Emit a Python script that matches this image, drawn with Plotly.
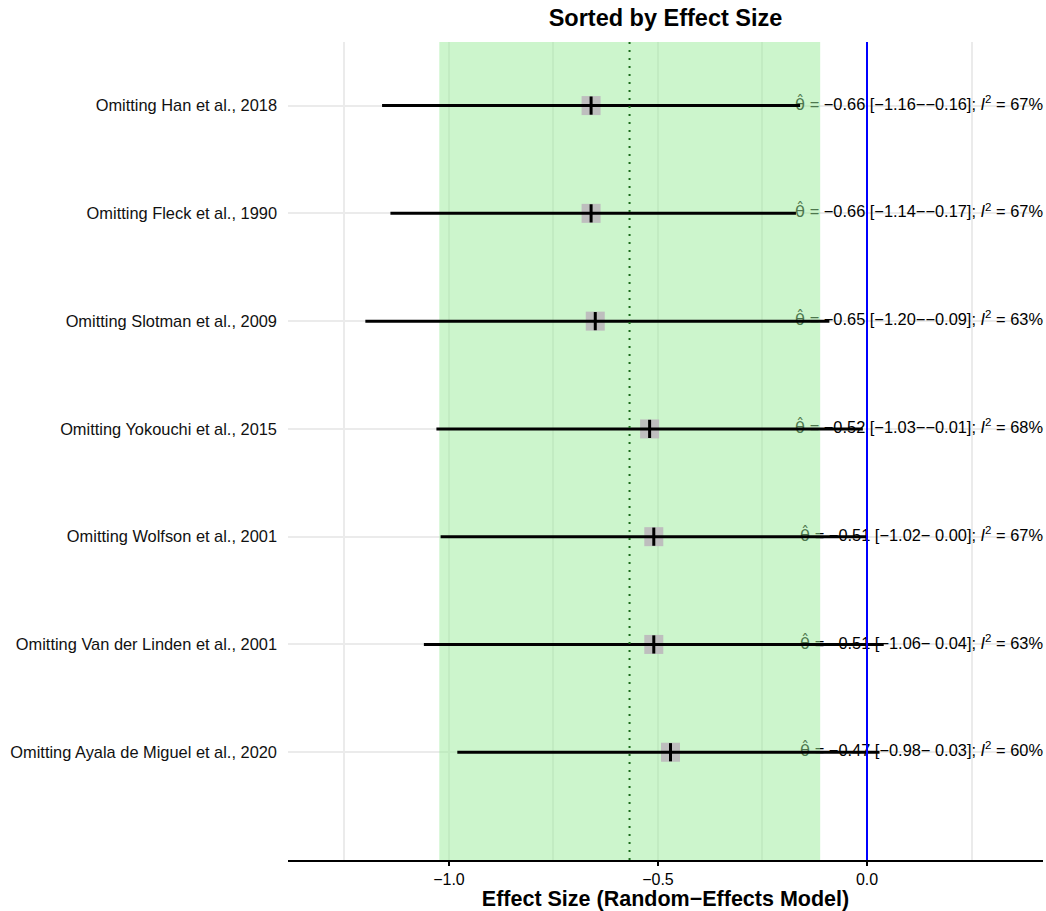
import plotly.graph_objects as go

# Leave-one-out sensitivity results, sorted by effect size
studies = [
    "Omitting Han et al., 2018",
    "Omitting Fleck et al., 1990",
    "Omitting Slotman et al., 2009",
    "Omitting Yokouchi et al., 2015",
    "Omitting Wolfson et al., 2001",
    "Omitting Van der Linden et al., 2001",
    "Omitting Ayala de Miguel et al., 2020",
]
estimate = [-0.66, -0.66, -0.65, -0.52, -0.51, -0.51, -0.47]
ci_lower = [-1.16, -1.14, -1.20, -1.03, -1.02, -1.06, -0.98]
ci_upper = [-0.16, -0.17, -0.09, -0.01, 0.00, 0.04, 0.03]
i_squared = [67, 67, 63, 68, 67, 63, 60]

# Pooled random-effects estimate and its interval (shaded band)
pooled_estimate = -0.568
pooled_lower = -1.023
pooled_upper = -0.112

X_RANGE = [-1.385, 0.421]
Y_RANGE = [0, 7.59]
FONT = "Liberation Sans, Arial, Helvetica, sans-serif"

n = len(studies)
ypos = list(range(n, 0, -1))  # first study at the top


def fmt(v):
    return f"{v:5.2f}".replace("-", "\u2212")


labels = []
for e, lo, hi, i2 in zip(estimate, ci_lower, ci_upper, i_squared):
    upper_txt = fmt(hi).strip() if hi < 0 else " " + fmt(hi).strip()
    labels.append(
        "<span style='font-family:DejaVu Sans'>\u03b8\u0302</span> = "
        f"{fmt(e)} [{fmt(lo)}\u2212{upper_txt}]; "
        f"<i>I</i><sup>2</sup> = {i2}%"
    )

fig = go.Figure()

# Result labels (drawn first so the shaded band tints the part beneath it)
fig.add_trace(go.Scatter(
    x=[X_RANGE[1]] * n, y=ypos, mode="text", text=labels,
    textposition="middle left",
    textfont=dict(family=FONT, size=16.4, color="black"),
    cliponaxis=False, hoverinfo="skip", showlegend=False,
))

# Pooled interval band
fig.add_trace(go.Scatter(
    x=[pooled_lower, pooled_upper, pooled_upper, pooled_lower, pooled_lower],
    y=[Y_RANGE[0], Y_RANGE[0], Y_RANGE[1], Y_RANGE[1], Y_RANGE[0]],
    mode="lines", fill="toself", fillcolor="rgba(153,235,153,0.5)",
    line=dict(width=0), hoverinfo="skip", showlegend=False,
))

# Squares at each estimate
fig.add_trace(go.Scatter(
    x=estimate, y=ypos, mode="markers",
    marker=dict(symbol="square", size=19, color="#bebebe", line=dict(width=0)),
    hoverinfo="skip", showlegend=False,
))

# Confidence interval lines
for lo, hi, y in zip(ci_lower, ci_upper, ypos):
    fig.add_trace(go.Scatter(
        x=[lo, hi], y=[y, y], mode="lines",
        line=dict(color="black", width=3),
        hoverinfo="skip", showlegend=False,
    ))

# Point estimate ticks
fig.add_trace(go.Scatter(
    x=estimate, y=ypos, mode="markers",
    marker=dict(symbol="line-ns", size=13, line=dict(color="black", width=3)),
    hoverinfo="skip", showlegend=False,
))

# Pooled estimate (dotted) and null line
fig.add_shape(type="line", x0=pooled_estimate, x1=pooled_estimate, y0=0, y1=1,
              xref="x", yref="paper", layer="above",
              line=dict(color="#1b6b1b", width=2, dash="2px,6px"))
fig.add_shape(type="line", x0=0, x1=0, y0=0, y1=1,
              xref="x", yref="paper", layer="above",
              line=dict(color="#0000ff", width=2))

fig.update_layout(
    width=1046, height=911,
    margin=dict(l=288, r=3, t=42, b=51),
    paper_bgcolor="white", plot_bgcolor="white",
    font=dict(family=FONT, size=16, color="black"),
    title=dict(text="<b>Sorted by Effect Size</b>", xref="paper", x=0.5,
               xanchor="center", y=1 - 18 / 911, yanchor="middle",
               font=dict(family=FONT, size=23.5, color="black")),
    showlegend=False,
)

fig.update_xaxes(
    range=X_RANGE, tick0=0, dtick=0.5, tickformat=".1f",
    showgrid=True, gridcolor="#ebebeb", gridwidth=1.5,
    minor=dict(dtick=0.25, tick0=0, showgrid=True, gridcolor="#ebebeb", gridwidth=1.5),
    zeroline=False, showline=True, linecolor="black", linewidth=2,
    ticks="outside", ticklen=4, tickwidth=1.5, tickcolor="black",
    tickfont=dict(family=FONT, size=16, color="black"),
    title=dict(text="<b>Effect Size (Random\u2212Effects Model)</b>", standoff=2,
               font=dict(family=FONT, size=21.5, color="black")),
)

fig.update_yaxes(
    range=Y_RANGE, tickvals=ypos, ticktext=studies,
    showgrid=True, gridcolor="#ebebeb", gridwidth=1.5,
    zeroline=False, showline=False, ticks="", ticklabelstandoff=10,
    tickfont=dict(family=FONT, size=16.4, color="#111111"),
)

fig.write_html("out.html")
